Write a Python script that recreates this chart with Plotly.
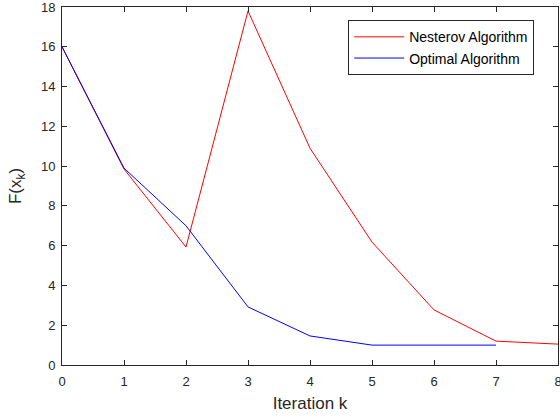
import plotly.graph_objects as go

iterations_nesterov = [0, 1, 2, 3, 4, 5, 6, 7, 8]
values_nesterov = [16.0, 9.85, 5.93, 17.8, 10.9, 6.18, 2.77, 1.2, 1.05]
iterations_optimal = [0, 1, 2, 3, 4, 5, 6, 7]
values_optimal = [16.0, 9.9, 7.0, 2.92, 1.46, 1.0, 1.0, 1.0]

x_ticks = [0, 1, 2, 3, 4, 5, 6, 7, 8]
y_ticks = [0, 2, 4, 6, 8, 10, 12, 14, 16, 18]

FONT = "Liberation Sans, Arial"

fig = go.Figure()
fig.add_trace(go.Scatter(x=iterations_nesterov, y=values_nesterov, mode="lines",
                         name="Nesterov Algorithm", line=dict(color="#FF0000", width=1)))
fig.add_trace(go.Scatter(x=iterations_optimal, y=values_optimal, mode="lines",
                         name="Optimal Algorithm", line=dict(color="#0000FF", width=1)))

axis_common = dict(showgrid=False, zeroline=False, showline=True, linecolor="#262626",
                   linewidth=1, mirror="ticks", ticks="inside", ticklen=5,
                   tickcolor="#262626", automargin=False, ticklabeloverflow="allow",
                   tickfont=dict(family=FONT, size=13, color="#262626"))

fig.update_xaxes(range=[0, 8], tickvals=x_ticks, ticklabelstandoff=4,
                 title=dict(text="Iteration k", font=dict(family=FONT, size=17, color="#262626"), standoff=9),
                 **axis_common)
fig.update_yaxes(range=[0, 18], tickvals=y_ticks, ticklabelstandoff=3,
                 title=dict(text="F(x<sub>k</sub>)", font=dict(family=FONT, size=17, color="#262626"), standoff=14),
                 **axis_common)

fig.update_layout(
    width=560, height=418,
    margin=dict(l=62, r=2, t=7, b=53),
    plot_bgcolor="white", paper_bgcolor="white",
    showlegend=True,
    legend=dict(x=0.577, y=0.963, xanchor="left", yanchor="top",
                bgcolor="white", bordercolor="#262626", borderwidth=1,
                font=dict(family=FONT, size=14, color="#000000"),
                tracegroupgap=0, itemwidth=50),
)

fig.write_html("out.html", config={"displayModeBar": False},
               post_script="document.body.style.margin='0';")
